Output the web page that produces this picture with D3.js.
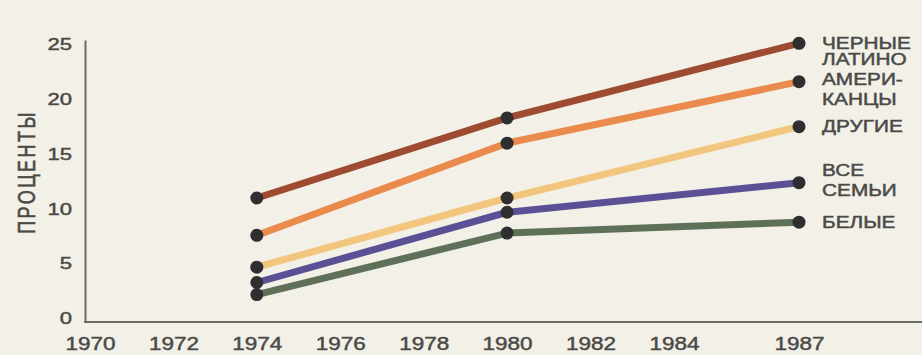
<!DOCTYPE html>
<html>
<head>
<meta charset="utf-8">
<script src="https://cdn.jsdelivr.net/npm/d3@7/dist/d3.min.js"></script>
<style>
  html, body { margin: 0; padding: 0; background: #f2f0e7; }
  svg { display: block; }
  text { font-family: "Liberation Sans", Arial, sans-serif; }
</style>
</head>
<body>
<svg id="chart" width="922" height="355"></svg>
<script>
// Share of families (percent), by group and year
const years = [1974, 1980, 1987];
const blacks   = [10.9, 18.2, 25.0];
const hispanic = [7.5, 15.9, 21.5];
const others   = [4.6, 10.9, 17.4];
const allFams  = [3.2, 9.6, 12.3];
const whites   = [2.1, 7.7, 8.7];

const xTicks = [1970, 1972, 1974, 1976, 1978, 1980, 1982, 1984, 1987];
const yTicks = [0, 5, 10, 15, 20, 25];

const seriesNames = [
  ["ЧЕРНЫЕ"],
  ["ЛАТИНО", "АМЕРИ-", "КАНЦЫ"],
  ["ДРУГИЕ"],
  ["ВСЕ", "СЕМЬИ"],
  ["БЕЛЫЕ"]
];
const seriesColors = ["#9f4b32", "#ea8a4c", "#f2c67c", "#5b5096", "#5e7158"];
const seriesValues = [blacks, hispanic, others, allFams, whites];

const W = 922, H = 355;
const axisX = 85, axisY = 322;
const stretch = 1.3;  // wide lettering
const textColor = "#4a4a48";

const svg = d3.select("#chart");
svg.append("rect").attr("width", W).attr("height", H).attr("fill", "#f2f0e7");

const x = d3.scaleLinear().domain([1970, 1987]).range([90, 799]);
const y = d3.scaleLinear().domain([-0.4, 25.3]).range([axisY, 40]);

// slightly heavier lettering
function heavy(sel, w) {
  sel.attr("fill", textColor).attr("stroke", textColor).attr("stroke-width", w);
}

// Y axis
const yAxis = svg.append("g")
  .attr("transform", `translate(${axisX},0)`)
  .call(d3.axisLeft(y).tickValues(yTicks).tickSize(0).tickPadding(0).tickFormat(d3.format("d")));
yAxis.select(".domain").attr("stroke", "#6a6a66").attr("stroke-width", 2);
yAxis.selectAll("text")
  .attr("font-size", 17)
  .attr("font-family", "Liberation Sans, Arial, sans-serif")
  .attr("x", -13 / stretch).attr("dy", "0.36em")
  .attr("transform", `scale(${stretch},1)`)
  .call(heavy, 0.45);

// X axis
svg.append("line")
  .attr("x1", axisX - 1).attr("x2", W)
  .attr("y1", axisY).attr("y2", axisY)
  .attr("stroke", "#6a6a66").attr("stroke-width", 2);
const xAxis = svg.append("g")
  .attr("transform", `translate(0,${axisY})`)
  .call(d3.axisBottom(x).tickValues(xTicks).tickSize(0).tickPadding(0).tickFormat(d3.format("d")));
xAxis.select(".domain").remove();
xAxis.selectAll("text")
  .attr("font-size", 18)
  .attr("font-family", "Liberation Sans, Arial, sans-serif")
  .attr("y", 28).attr("dy", 0)
  .attr("transform", `scale(${stretch - 0.05},1)`)
  .call(heavy, 0.45);

// Y title
svg.append("text")
  .attr("transform", `translate(35,172) rotate(-90) scale(1,${stretch})`)
  .attr("text-anchor", "middle")
  .attr("font-size", 18).attr("letter-spacing", 2.5)
  .text("ПРОЦЕНТЫ")
  .call(heavy, 0.45);

// Lines
const line = d3.line().x((d, i) => x(years[i])).y(d => y(d));
seriesValues.forEach((vals, s) => {
  svg.append("path")
    .datum(vals)
    .attr("d", line)
    .attr("fill", "none")
    .attr("stroke", seriesColors[s])
    .attr("stroke-width", 7)
    .attr("stroke-linecap", "round");
});

// Markers
seriesValues.forEach((vals) => {
  svg.selectAll(null)
    .data(vals)
    .enter().append("circle")
    .attr("cx", (d, i) => x(years[i]))
    .attr("cy", d => y(d))
    .attr("r", 6.5)
    .attr("fill", "#2f2e30");
});

// Series labels to the right of the last point
const labelRows = [
  { lines: seriesNames[0], v: blacks[2], offset: 0 },
  { lines: seriesNames[1], v: hispanic[2], offset: -1.1 },
  { lines: seriesNames[2], v: others[2], offset: 0 },
  { lines: seriesNames[3], v: allFams[2], offset: -0.6 },
  { lines: seriesNames[4], v: whites[2], offset: 0 }
];
const lineGap = 20;
labelRows.forEach(row => {
  const yc = y(row.v);
  row.lines.forEach((t, k) => {
    const yy = yc + (k + row.offset) * lineGap;
    svg.append("text")
      .attr("transform", `translate(822,${yy}) scale(${stretch},1)`)
      .attr("dy", "0.36em")
      .attr("font-size", 16)
      .text(t)
      .call(heavy, 0.45);
  });
});
</script>
</body>
</html>
